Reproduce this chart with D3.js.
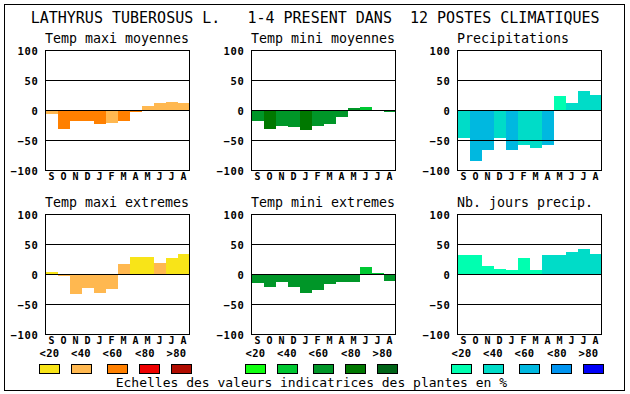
<!DOCTYPE html>
<html><head><meta charset="utf-8">
<script src="https://cdn.jsdelivr.net/npm/d3@7"></script>
<style>
html,body{margin:0;padding:0;background:#fff;}
text{font-family:"DejaVu Sans Mono",monospace;white-space:pre;}
</style></head>
<body>
<svg id="c" width="630" height="394"></svg>
<script>
const months = ["S","O","N","D","J","F","M","A","M","J","J","A"];
const yTicks = [-100,-50,0,50,100];
const classLabels = ["<20","<40","<60","<80",">80"];
const title = "LATHYRUS TUBEROSUS L.   1-4 PRESENT DANS  12 POSTES CLIMATIQUES";
const footer = "Echelles des valeurs indicatrices des plantes en %";

const tmaxMoy    = [-5,-30,-17,-17,-22,-20,-17,-2,7,12,14,12];
const tmaxMoyCls = [1,2,2,2,2,1,2,2,1,1,1,1];
const tminMoy    = [-17,-30,-26,-27,-32,-26,-22,-11,4,6,0,-2];
const tminMoyCls = [2,3,2,2,3,2,2,2,2,1,2,2];
const precip     = [-46,-84,-66,-46,-66,-57,-62,-57,24,12,32,26];
const precipCls  = [1,2,2,1,2,1,1,2,0,1,1,1];
const tmaxExt    = [5,-2,-33,-22,-31,-24,17,30,30,20,27,35];
const tmaxExtCls = [0,1,1,1,1,1,1,0,0,1,0,0];
const tminExt    = [-14,-21,-13,-21,-31,-26,-16,-13,-13,12,2,-11];
const tminExtCls = [2,2,2,2,2,2,2,2,2,1,1,2];
const nbJours    = [33,33,15,10,7,27,7,33,33,37,43,35];
const nbJoursCls = [0,0,0,0,0,0,0,1,1,1,1,1];

const palTemp  = ["#f8e418","#ffb850","#ff8000","#ee0000","#b00c00"];
const palGreen = ["#10ff10","#00c832","#009628","#007800","#006418"];
const palBlue  = ["#00ffb0","#00dcc8","#00b8e0","#0094f0","#0000f8"];

const panels = [
  {t:"Temp maxi moyennes", v:tmaxMoy, c:tmaxMoyCls, pal:palTemp, col:0, row:0},
  {t:"Temp mini moyennes", v:tminMoy, c:tminMoyCls, pal:palGreen, col:1, row:0},
  {t:"Precipitations", v:precip, c:precipCls, pal:palBlue, col:2, row:0},
  {t:"Temp maxi extremes", v:tmaxExt, c:tmaxExtCls, pal:palTemp, col:0, row:1},
  {t:"Temp mini extremes", v:tminExt, c:tminExtCls, pal:palGreen, col:1, row:1},
  {t:"Nb. jours precip.", v:nbJours, c:nbJoursCls, pal:palBlue, col:2, row:1}
];

const svg = d3.select("#c");
svg.append("rect").attr("x",4.5).attr("y",4.5).attr("width",620).attr("height",386)
  .attr("fill","none").attr("stroke","#000").attr("stroke-width",1);

svg.append("text").attr("x",30.7).attr("y",23).attr("font-size",15).attr("fill","#000").text(title);

const colX = [45.5, 251.5, 457.5];
const rowTop = [50.5, 214.5];
const W = 144, H = 120;

panels.forEach(p => {
  const x0 = colX[p.col], y0 = rowTop[p.row];
  const g = svg.append("g");
  const x = d3.scaleBand().domain(d3.range(12)).range([x0, x0+W]).padding(0);
  const y = d3.scaleLinear().domain([-100,100]).range([y0+H, y0]);

  g.append("text").attr("x",x0-0.5).attr("y",y0-7.3).attr("font-size",13.3).text(p.t);

  g.selectAll("rect.bar").data(p.v).enter().append("rect")
    .attr("class","bar")
    .attr("x",(d,i)=>x(i)).attr("width",x.bandwidth())
    .attr("y",d=>y(Math.max(0,d))).attr("height",d=>Math.abs(y(d)-y(0)))
    .attr("fill",(d,i)=>p.pal[p.c[i]])
    .attr("shape-rendering","crispEdges");

  g.selectAll("line.grid").data([-50,0,50]).enter().append("line")
    .attr("x1",x0).attr("x2",x0+W).attr("y1",d=>y(d)).attr("y2",d=>y(d))
    .attr("stroke","#000").attr("stroke-width",1);

  g.append("rect").attr("x",x0).attr("y",y0).attr("width",W).attr("height",H)
    .attr("fill","none").attr("stroke","#000").attr("stroke-width",1);

  const ya = g.append("g").attr("transform",`translate(${x0},0)`)
    .call(d3.axisLeft(y).tickValues(yTicks).tickSize(0).tickPadding(7).tickFormat(d3.format("d")));
  ya.select(".domain").remove();
  ya.selectAll("text").attr("font-family","DejaVu Sans Mono").attr("font-weight","bold")
    .attr("font-size",10.5).attr("letter-spacing",0.7).attr("fill","#000").attr("dy","0.36em");

  const xa = g.append("g").attr("transform",`translate(0,${y0+H})`)
    .call(d3.axisBottom(x).tickSize(0).tickPadding(0).tickFormat(i=>months[i]));
  xa.select(".domain").remove();
  xa.selectAll("text").attr("font-family","DejaVu Sans Mono").attr("font-weight","bold")
    .attr("font-size",10).attr("fill","#000").attr("dy",null).attr("y",9.5);

  if (p.row === 1) {
    const swOff = [-6,26,62,94,126];
    const lbOff = [-6,25.5,57,89.5,121];
    g.selectAll("text.cl").data(classLabels).enter().append("text")
      .attr("class","cl").attr("x",(d,i)=>x0+lbOff[i]).attr("y",356.7)
      .attr("font-size",10.5).attr("letter-spacing",0.35).attr("font-weight","bold").text(d=>d);
    g.selectAll("rect.sw").data(p.pal).enter().append("rect")
      .attr("class","sw").attr("x",(d,i)=>x0+swOff[i]).attr("y",364.5)
      .attr("width",20).attr("height",9).attr("fill",d=>d)
      .attr("stroke","#000").attr("stroke-width",1);
  }
});

svg.append("text").attr("x",115.7).attr("y",386.5).attr("font-size",13).text(footer);
</script>
</body></html>
